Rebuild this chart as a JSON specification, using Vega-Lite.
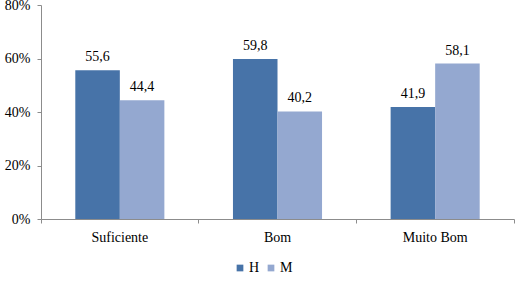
{
  "$schema": "https://vega.github.io/schema/vega-lite/v6.json",
  "width": 473,
  "height": 214,
  "autosize": "none",
  "padding": {"left": 41, "top": 5, "right": 5, "bottom": 86},
  "background": "white",
  "config": {
    "view": {"stroke": null},
    "font": "'Liberation Serif', 'DejaVu Serif', serif",
    "locale": {"number": {"decimal": ",", "thousands": ".", "grouping": [3], "currency": ["", " €"]}}
  },
  "data": {
    "values": [
      {"nivel": "Suficiente", "sexo": "H", "pct": 55.6},
      {"nivel": "Suficiente", "sexo": "M", "pct": 44.4},
      {"nivel": "Bom", "sexo": "H", "pct": 59.8},
      {"nivel": "Bom", "sexo": "M", "pct": 40.2},
      {"nivel": "Muito Bom", "sexo": "H", "pct": 41.9},
      {"nivel": "Muito Bom", "sexo": "M", "pct": 58.1}
    ]
  },
  "encoding": {
    "x": {
      "field": "nivel",
      "type": "nominal",
      "sort": ["Suficiente", "Bom", "Muito Bom"],
      "scale": {"paddingInner": 0, "paddingOuter": 0},
      "axis": {
        "title": null,
        "labelAngle": 0,
        "labelFont": "'Liberation Serif', 'DejaVu Serif', serif",
        "labelFontSize": 14,
        "labelColor": "black",
        "labelPadding": 7,
        "domainColor": "#8c8c8c",
        "tickColor": "#8c8c8c",
        "tickSize": 4,
        "bandPosition": 1,
        "tickExtra": true,
        "grid": false
      }
    },
    "xOffset": {
      "field": "sexo",
      "type": "nominal",
      "scale": {"paddingInner": 0, "paddingOuter": 0.77}
    },
    "y": {
      "field": "pct",
      "type": "quantitative",
      "scale": {"domain": [0, 80]},
      "axis": {
        "title": null,
        "values": [0, 20, 40, 60, 80],
        "labelExpr": "datum.value + '%'",
        "labelFont": "'Liberation Serif', 'DejaVu Serif', serif",
        "labelFontSize": 14,
        "labelColor": "black",
        "labelPadding": 7,
        "domainColor": "#8c8c8c",
        "tickColor": "#8c8c8c",
        "tickSize": 4,
        "grid": false
      }
    }
  },
  "layer": [
    {
      "mark": {"type": "bar"},
      "encoding": {
        "color": {
          "field": "sexo",
          "type": "nominal",
          "scale": {"domain": ["H", "M"], "range": ["#4773A8", "#94A8D0"]},
          "legend": {
            "title": null,
            "orient": "none",
            "direction": "horizontal",
            "legendX": 192,
            "legendY": 256,
            "symbolType": "square",
            "symbolSize": 45,
            "symbolStrokeWidth": 0,
            "labelFont": "'Liberation Serif', 'DejaVu Serif', serif",
            "labelFontSize": 14,
            "labelColor": "black",
            "labelOffset": 2,
            "columnPadding": 4
          }
        }
      }
    },
    {
      "mark": {"type": "text", "baseline": "bottom", "dy": -6, "fontSize": 14, "font": "'Liberation Serif', 'DejaVu Serif', serif", "color": "black"},
      "encoding": {
        "text": {"field": "pct", "type": "quantitative", "format": ".1f"}
      }
    }
  ]
}
